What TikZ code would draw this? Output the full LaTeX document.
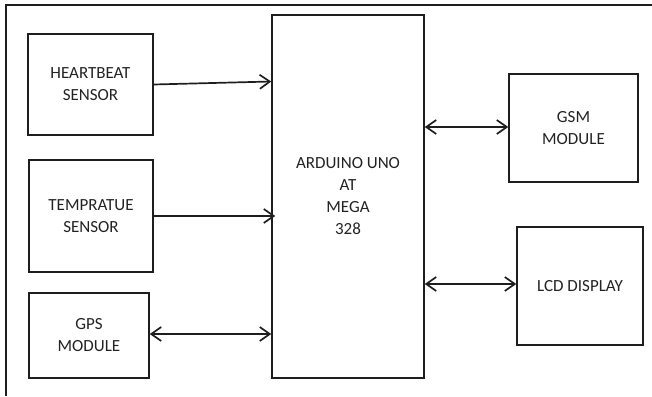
\documentclass[tikz,border=0pt]{standalone}
\usepackage{fontspec}
\setmainfont{Carlito}
\usetikzlibrary{arrows.meta,positioning,calc}
\definecolor{Line}{HTML}{1E1E1E}
\definecolor{Txt}{HTML}{222222}

\begin{document}
\begin{tikzpicture}[
 x=1pt,y=-1pt,
 b/.style={draw=Line,line width=1.5pt,align=center,text=Txt,font=\fontsize{17}{22}\selectfont,inner sep=0pt},
 a/.style={-{Straight Barb[length=10pt,width=14pt]},line width=1.7pt,draw=Line},
 aa/.style={{Straight Barb[length=10pt,width=14pt]}-{Straight Barb[length=10pt,width=14pt]},line width=1.7pt,draw=Line}
]
\useasboundingbox (0,0) rectangle (652,396);
\draw[line width=2.2pt,draw=Line] (652,5) -- (6,5) -- (6,396);
\node[b,minimum width=125pt,minimum height=101pt] (hb) at (90.5,84.5) {HEARTBEAT\\SENSOR};
\node[b,minimum width=124pt,minimum height=112pt] (tmp) at (91,216) {TEMPRATUE\\SENSOR};
\node[b,minimum width=120pt,minimum height=85pt] (gps) at (89,335.5) {GPS\\MODULE};
\node[b,minimum width=152pt,minimum height=363pt] (ard) at (348,196.5) {ARDUINO UNO\\AT\\MEGA\\328};
\node[b,minimum width=129pt,minimum height=108pt] (gsm) at (573.5,128) {GSM\\MODULE};
\node[b,minimum width=126pt,minimum height=118pt] (lcd) at (580,286) {LCD DISPLAY};
\draw[a] (hb.east) -- ([yshift=3pt]hb.east -| ard.west);
\draw[a] (tmp.east) -- ([xshift=4pt]tmp.east -| ard.west);
\draw[aa] ([yshift=1.5pt]gps.east) -- ([yshift=1.5pt]gps.east -| ard.west);
\draw[aa] ([yshift=1pt]gsm.west -| ard.east) -- ([yshift=1pt]gsm.west);
\draw[aa] ([yshift=2pt]lcd.west -| ard.east) -- ([yshift=2pt]lcd.west);
\end{tikzpicture}
\end{document}
